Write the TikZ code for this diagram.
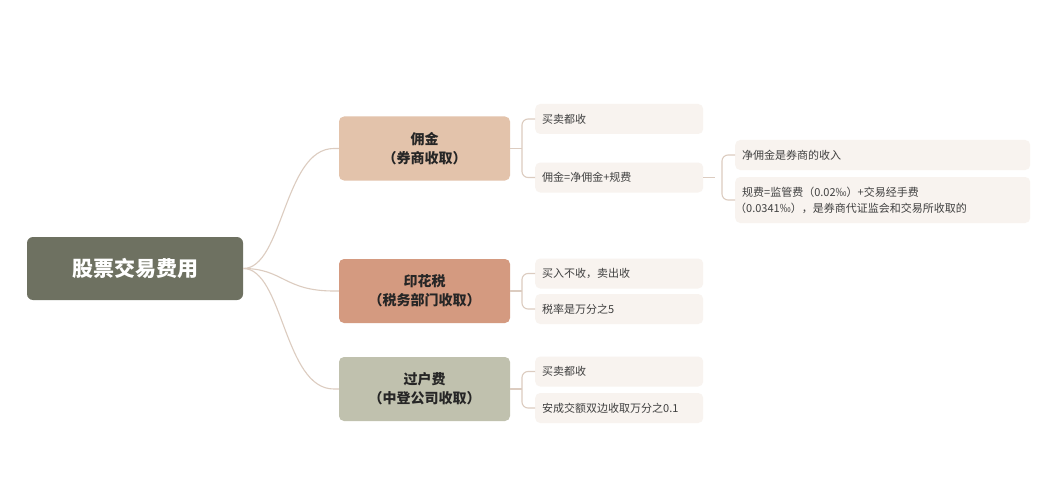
\documentclass[tikz,border=0pt]{standalone}
\usepackage{fontspec}
\setmainfont{Noto Sans CJK SC}
\begin{document}
\begin{tikzpicture}[x=1pt,y=-1pt,
 line/.style={draw=lineC,line width=1.1pt},
 branch/.style={rounded corners=5pt,align=center,font=\bfseries\fontsize{14}{19}\selectfont,text=black!85,minimum width=171pt,minimum height=64pt,inner sep=0pt},
 leaf/.style={rounded corners=5pt,fill=leafC,anchor=west,text=black!75,font=\fontsize{11}{16}\selectfont,inner sep=0pt,align=left,text width=168pt,minimum height=30pt}]
\definecolor{lineC}{HTML}{DCCCC0}
\definecolor{leafC}{HTML}{F8F3EF}
\definecolor{rootC}{HTML}{6E7161}
\definecolor{bA}{HTML}{E3C3AB}
\definecolor{bB}{HTML}{D49A80}
\definecolor{bC}{HTML}{C0C1AE}
\fill[white] (0,0) rectangle (1057,500);
\useasboundingbox (0,0) rectangle (1057,500);
\node[rounded corners=6pt,fill=rootC,text=white,font=\bfseries\fontsize{21}{24}\selectfont,minimum width=216pt,minimum height=63pt] (root) at (135,268.5) {股票交易费用};
\node[branch,fill=bA] (b1) at (424.5,148.5) {佣金\\（券商收取）};
\node[branch,fill=bB] (b2) at (424.5,291) {印花税\\（税务部门收取）};
\node[branch,fill=bC] (b3) at (424.5,389) {过户费\\（中登公司收取）};
\begin{scope}[every node/.append style={leaf}]
\node (l1) at (535,119) {\hspace{7pt}买卖都收};
\node (l2) at (535,177.5) {\hspace{7pt}佣金=净佣金+规费};
\node (l3) at (535,273.5) {\hspace{7pt}买入不收，卖出收};
\node (l4) at (535,309) {\hspace{7pt}税率是万分之5};
\node (l5) at (535,371.5) {\hspace{7pt}买卖都收};
\node (l6) at (535,408) {\hspace{7pt}安成交额双边收取万分之0.1};
\node[text width=295pt] (s1) at (735,155) {\hspace{7pt}净佣金是券商的收入};
\node[text width=295pt,minimum height=46pt] (s2) at (735,200) {\leftskip=7pt 规费=监管费（0.02‰）+交易经手费\\（0.0341‰），是券商代证监会和交易所收取的};
\end{scope}
\foreach \b in {b1,b2,b3}
 \draw[line] (root.east) .. controls +(40,0) and +(-50,0) .. ([xshift=-5pt]\b.west) -- (\b.west);
\draw[line,rounded corners=6pt] (b1.east) -- ++(12,0) coordinate (j1);
\draw[line,rounded corners=6pt] (l1.west) -- ++(-13,0) |- (l2.west);
\draw[line,rounded corners=6pt] (b2.east) -- ++(12,0);
\draw[line,rounded corners=6pt] (l3.west) -- ++(-13,0) |- (l4.west);
\draw[line,rounded corners=6pt] (b3.east) -- ++(12,0);
\draw[line,rounded corners=6pt] (l5.west) -- ++(-13,0) |- (l6.west);
\draw[line] (l2.east) -- ++(12,0);
\draw[line,rounded corners=6pt] (s1.west) -- ++(-13,0) |- (s2.west);
\end{tikzpicture}
\end{document}
